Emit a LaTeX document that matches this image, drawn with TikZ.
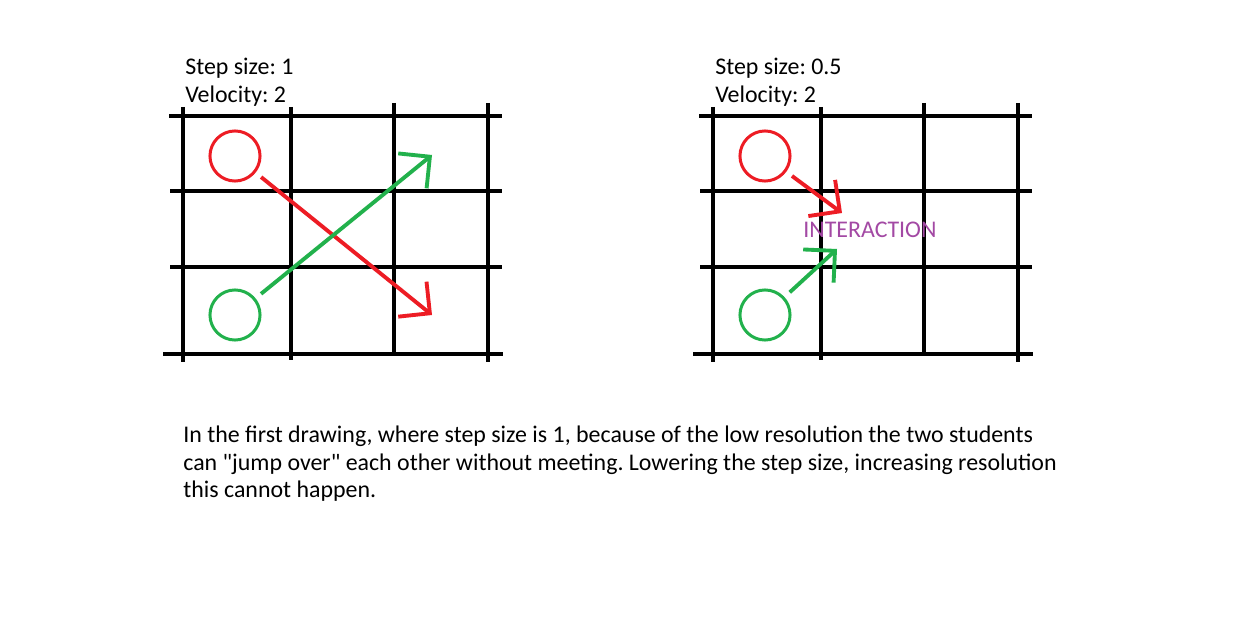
\documentclass[tikz,border=0pt]{standalone}
\usepackage{fontspec}
\setmainfont{Carlito}
\usetikzlibrary{arrows.meta}
\definecolor{pred}{RGB}{237,28,36}
\definecolor{pgreen}{RGB}{34,177,76}
\definecolor{ppurple}{RGB}{163,73,164}
\tikzset{>=latex}
\frenchspacing
\tikzstyle{gridline} = [black, line width=2.8pt]
\tikzstyle{student} = [circle, line width=1.7pt, minimum size=28.5pt, inner sep=0pt]
\tikzstyle{move} = [line width=2.2pt, shorten <=4pt, -{Straight Barb[length=12.8pt, width=25.6pt]}]
\tikzstyle{label} = [anchor=base west, inner sep=0pt, font=\fontsize{13.6}{15.9}\selectfont]

\begin{document}
\begin{tikzpicture}[x=0.02cm, y=-0.02cm]
\useasboundingbox [fill=white] (0,0) rectangle (1255,617);
% the two grids
\foreach \dx/\stepsz in {0/1, 530/0.5} {
  \begin{scope}[shift={(\dx,0)}]
    \draw [gridline] (169,116) -- (502,116);
    \draw [gridline] (170,191) -- (502,191);
    \draw [gridline] (170,267) -- (502,267);
    \draw [gridline] (163,354) -- (503,354);
    \draw [gridline] (183,107) -- (183,362);
    \draw [gridline] (291,107) -- (291,360);
    \draw [gridline] (394,103) -- (394,354);
    \draw [gridline] (488,103) -- (488,362);
    \node [label] at (185,75) {Step size: \stepsz};
    \node [label] at (185,103) {Velocity: 2};
  \end{scope}
}
% step size 1
\node [student, draw=pred] (redA) at (235,156) {};
\node [student, draw=pgreen] (greenA) at (235,315) {};
\coordinate (redAend) at (432,315);
\coordinate (greenAend) at (432,155);
\draw [move, pred] (redA) -- (redAend);
\draw [move, pgreen] (greenA) -- (greenAend);
% step size 0.5
\node [student, draw=pred] (redB) at (765,156) {};
\node [student, draw=pgreen] (greenB) at (765,315) {};
\coordinate (redBend) at (842,213);
\coordinate (greenBend) at (837,249);
\draw [move, pred] (redB) -- (redBend);
\draw [move, pgreen] (greenB) -- (greenBend);
\node [label, text=ppurple] (hit) at (803,238) {INTERACTION};
% explanation
\node [label, align=left] (note) at (183,498) {In the first drawing, where step size is 1, because of the low resolution the two students\\
can \textquotedbl jump over\textquotedbl{} each other without meeting. Lowering the step size, increasing resolution\\
this cannot happen.};
\end{tikzpicture}
\end{document}
